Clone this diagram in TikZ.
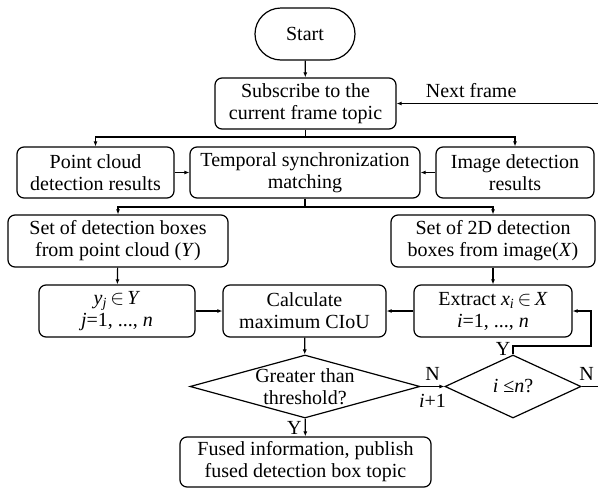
\documentclass[tikz,border=0pt]{standalone}
\usepackage{fontspec}
\setmainfont{Liberation Serif}
\usetikzlibrary{shapes.geometric,shapes.misc,arrows.meta}

\begin{document}
\begin{tikzpicture}[
    x=1pt, y=-1pt,
    line width=1.2pt,
    >={Latex[length=5pt,width=4pt]},
    every node/.style={font=\fontsize{20}{22}\selectfont, align=center, inner sep=0pt},
    box/.style={draw, rounded corners=7pt, minimum height=51pt},
    term/.style={draw, rounded rectangle, minimum width=100pt, minimum height=52pt},
    test/.style={draw, diamond, inner sep=-4pt, minimum height=63pt},
    lab/.style={font=\fontsize{20}{22}\selectfont}
]
\useasboundingbox (0,0) rectangle (598,488);

% boxes
\node[term] (start) at (305,34) {Start};
\node[box, minimum width=181pt] (sub) at (305.5,103.5) {Subscribe to the\\current frame topic};
\node[box, minimum width=157pt] (pc) at (95.5,172.5) {Point cloud\\detection results};
\node[box, minimum width=230pt] (tem) at (305,172.5) {Temporal synchronization\\matching};
\node[box, minimum width=158pt] (img) at (515,172.5) {Image detection\\results};
\node[box, minimum width=220pt, minimum height=52pt] (setY) at (118,241) {Set of detection boxes\\from point cloud (\textit{Y})};
\node[box, minimum width=204pt, minimum height=52pt] (setX) at (493,241) {Set of 2D detection\\boxes from image(\textit{X})};
\node[box, minimum width=156pt, minimum height=52pt] (yj) at (117,311) {\textit{y}\textsubscript{\textit{j}}\,$\in$\,\textit{Y}\\\textit{j}=1, ..., \textit{n}};
\node[box, minimum width=163pt, minimum height=52pt] (calc) at (304.5,311) {Calculate\\maximum CIoU};
\node[box, minimum width=158pt, minimum height=52pt] (ext) at (493,311) {Extract \textit{x}\textsubscript{\textit{i}}\,$\in$\,\textit{X}\\\textit{i}=1, ..., \textit{n}};
\node[test, aspect=3.65, minimum width=230pt] (gt) at (305,386.5) {Greater than\\threshold?};
\node[test, aspect=2.16, minimum width=136pt] (le) at (513,386.5) {\textit{i} ≤\textit{n}?};
\node[box, minimum width=251pt, minimum height=50pt] (fuse) at (305.5,462) {Fused information, publish\\fused detection box topic};

% helper points
\coordinate (nf) at (598,103.5);
\coordinate (split1) at (305.5,137);
\coordinate (split2) at (305,207);
\coordinate (out) at (598,386.5);
\coordinate (loop1) at (513,346);
\coordinate (loop2) at (591,311);

% connectors
\draw[->] (start) -- (sub);
\draw[->] (nf) -- node[lab, above=5pt, pos=0.63] {Next frame} (sub);
\draw (sub) -- (split1);
\draw[->] (split1) -| (pc);
\draw[->] (split1) -| (img);
\draw[->] (pc) -- (tem);
\draw[->] (img) -- (tem);
\draw (tem) -- (split2);
\draw[->] (split2) -| (setY);
\draw[->] (split2) -| (setX);
\draw[->] (setY) -- (yj);
\draw[->] (setX) -- (ext);
\draw[->] (yj) -- (calc);
\draw[->] (ext) -- (calc);
\draw[->] (calc) -- (gt);
\draw[->] (gt) -- node[lab, left=3pt] {Y} (fuse);
\draw[->] (gt) -- node[lab, above=5pt] {N} node[lab, below=7pt] {\textit{i}+1} (le);
\draw[->] (le.north) -- (loop1) -| (loop2) -- (ext);
\node[lab, anchor=east] (ylab) at (511,349) {Y};
\draw (le) -- node[lab, above=5pt, pos=0.3] {N} (out);
\end{tikzpicture}
\end{document}
